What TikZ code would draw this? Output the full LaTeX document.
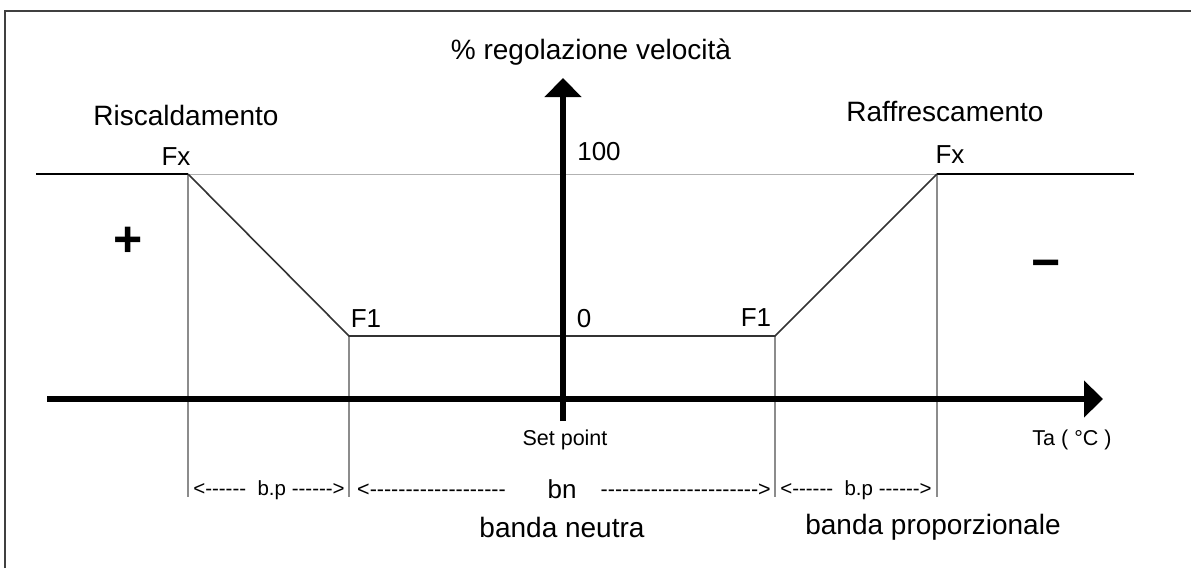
\documentclass[tikz,border=0pt]{standalone}
\usepackage{fontspec}
\setmainfont{Liberation Sans}
\usetikzlibrary{arrows.meta}
\ExplSyntaxOn
\cs_new:Npn \myrep #1 #2 {\prg_replicate:nn{#1}{#2}}
\ExplSyntaxOff
\newcommand\dsh[1]{\myrep{#1}{-\kern0pt}}
\begin{document}
\begin{tikzpicture}[x=1pt,y=-1pt,
  axis/.style={line width=6pt,-{Triangle[length=19pt,width=36pt]}},
  slope/.style={line width=1.6pt,black!80},
  guide/.style={line width=1.2pt,black!45},
  faint/.style={line width=1pt,black!30},
  lvl/.style={line width=2pt,black},
  frame/.style={line width=2pt,black!75},
  big/.style={inner sep=0pt,font=\fontsize{28}{30}\selectfont},
  mid/.style={inner sep=0pt,font=\fontsize{26}{28}\selectfont},
  small/.style={inner sep=0pt,font=\fontsize{21.5}{24}\selectfont},
  dashrow/.style={inner sep=0pt,font=\fontsize{20.5}{24}\selectfont},
  sign/.style={inner sep=0pt,font=\fontsize{50}{52}\selectfont\bfseries},
]
\useasboundingbox (0,0) rectangle (1191,568);
% frame
\coordinate (fBL) at (5,568);
\coordinate (fTL) at (5,11);
\coordinate (fTR) at (1191,11);
\draw[frame] (fBL) -- (fTL) -- (fTR);
% key points
\coordinate (lvlL) at (36,174);
\coordinate (FxL) at (188,174);
\coordinate (F1L) at (349,336);
\coordinate (F1R) at (775,336);
\coordinate (FxR) at (937,174);
\coordinate (lvlR) at (1134,174);
\coordinate (gA) at (188,497);
\coordinate (gB) at (349,497);
\coordinate (gC) at (775,497);
\coordinate (gD) at (937,497);
% guides
\draw[guide] (FxL) -- (gA);
\draw[guide] (F1L) -- (gB);
\draw[guide] (F1R) -- (gC);
\draw[guide] (FxR) -- (gD);
\draw[faint] (FxL) -- (FxR);
% characteristic
\draw[lvl] (lvlL) -- (FxL);
\draw[lvl] (FxR) -- (lvlR);
\draw[slope] (FxL) -- (F1L) -- (F1R) -- (FxR);
% axes
\coordinate (hS) at (47,399);
\coordinate (hE) at (1103,399);
\coordinate (vS) at (563,421);
\coordinate (vE) at (563,78);
\draw[axis] (hS) -- (hE);
\draw[axis] (vS) -- (vE);
% labels
\node[big] (ylab) at (591,52) {\% regolazione velocità};
\node[big] (risc) at (186,115) {Riscaldamento};
\node[big] (raff) at (945,112) {Raffrescamento};
\node[mid] (fxl) at (176,157) {Fx};
\node[mid] (fxr) at (950,155) {Fx};
\node[mid] (l100) at (599,152) {100};
\node[mid] (l0) at (584,319) {0};
\node[mid] (f1l) at (366,319) {F1};
\node[mid] (f1r) at (756,318) {F1};
\node[sign] (plus) at (128,242) {+};
\node[sign] (minus) at (1046,270) {−};
\node[small] (sp) at (565,440) {Set point};
\node[small] (ta) at (1072,440) {Ta ( °C )};
\node[dashrow] (bpl) at (269,490) {<\dsh{6}\ \ b.p \dsh{6}>};
\node[small,anchor=west] (bnl) at (357,490) {<\dsh{19}};
\node[mid] (bn) at (562,489) {bn};
\node[small,anchor=east] (bnr) at (771,490) {\dsh{22}>};
\node[dashrow] (bpr) at (856,490) {<\dsh{6}\ \ b.p \dsh{6}>};
\node[big] (bneu) at (562,527) {banda neutra};
\node[big] (bprop) at (933,527) {banda proporzionale};
\end{tikzpicture}
\end{document}
